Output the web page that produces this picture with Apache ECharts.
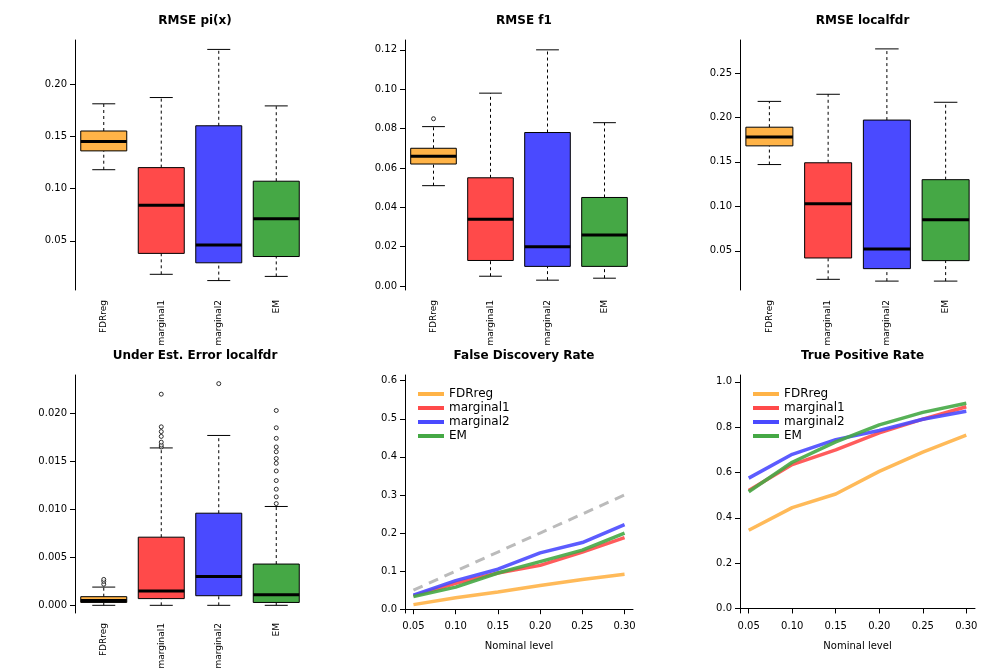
<!DOCTYPE html>
<html><head><meta charset="utf-8">
<script src="https://cdn.jsdelivr.net/npm/echarts@6/dist/echarts.min.js"></script>
<style>html,body{margin:0;background:#fff}#c{width:1008px;height:672px}</style>
</head><body><div id="c"></div>
<script>
const methods = ['FDRreg', 'marginal1', 'marginal2', 'EM']
const colors = ['#ffb347', '#ff4a4a', '#4a4aff', '#45a845']

// boxplot stats: [min, q1, median, q3, max]
const rmsePi = [[0.118,0.136,0.145,0.155,0.181],[0.018,0.038,0.084,0.120,0.187],[0.012,0.029,0.046,0.160,0.233],[0.016,0.035,0.071,0.107,0.179]]
const rmsePiOut = [[], [], [], []]
const rmseF1 = [[0.051,0.062,0.066,0.070,0.081],[0.005,0.013,0.034,0.055,0.098],[0.003,0.010,0.020,0.078,0.120],[0.004,0.010,0.026,0.045,0.083]]
const rmseF1Out = [[0.085], [], [], []]
const rmseLfdr = [[0.147,0.168,0.178,0.189,0.218],[0.018,0.042,0.103,0.149,0.226],[0.016,0.030,0.052,0.197,0.277],[0.016,0.039,0.085,0.130,0.217]]
const rmseLfdrOut = [[], [], [], []]
const underEst = [[0,0.0003,0.0005,0.0009,0.0019],[0,0.0007,0.0015,0.0071,0.0164],[0,0.0010,0.0030,0.0096,0.0177],[0,0.0003,0.0011,0.0043,0.0103]]
const underEstOut = [
  [0.0022,0.0025,0.0027],
  [0.0165,0.0167,0.0170,0.0176,0.0181,0.0186,0.0220],
  [0.0231],
  [0.0106,0.0113,0.0121,0.0130,0.0140,0.0148,0.0153,0.0160,0.0165,0.0174,0.0185,0.0203]
]

const nominal = [0.05,0.10,0.15,0.20,0.25,0.30]
const fdr = [
  [0.012,0.030,0.045,0.062,0.078,0.092],
  [0.035,0.068,0.095,0.115,0.150,0.188],
  [0.037,0.075,0.105,0.148,0.175,0.222],
  [0.033,0.058,0.095,0.125,0.155,0.200]
]
const tpr = [
  [0.345,0.445,0.505,0.605,0.690,0.765],
  [0.520,0.635,0.700,0.775,0.835,0.890],
  [0.575,0.680,0.745,0.785,0.835,0.870],
  [0.515,0.645,0.735,0.810,0.865,0.905]
]

const panels = [
  {title:'RMSE pi(x)', box:rmsePi, out:rmsePiOut, min:0.003, max:0.242, ticks:[0.05,0.10,0.15,0.20], dec:2},
  {title:'RMSE f1', box:rmseF1, out:rmseF1Out, min:-0.002, max:0.125, ticks:[0,0.02,0.04,0.06,0.08,0.10,0.12], dec:2},
  {title:'RMSE localfdr', box:rmseLfdr, out:rmseLfdrOut, min:0.006, max:0.287, ticks:[0.05,0.10,0.15,0.20,0.25], dec:2},
  {title:'Under Est. Error localfdr', box:underEst, out:underEstOut, min:-0.0008, max:0.024, ticks:[0,0.005,0.010,0.015,0.020], dec:3},
  {title:'False Discovery Rate', line:fdr, min:-0.01, max:0.615, ticks:[0,0.1,0.2,0.3,0.4,0.5,0.6], dec:1, diag:true},
  {title:'True Positive Rate', line:tpr, min:-0.02, max:1.03, ticks:[0,0.2,0.4,0.6,0.8,1.0], dec:1}
]
const gx = [[75,230],[405,228],[740,235]]
const gy = [[40,250],[375,238]]

function renderBox(params, api) {
  const k = api.value(0)
  const v = [1, 2, 3, 4, 5].map(j => api.coord([k, api.value(j)])[1])
  const x = api.coord([k, 0])[0], w = api.size([1, 0])[0] * 0.4, cw = w * 0.5
  const col = colors[k], blk = {stroke:'#000', lineWidth:1}
  return {type:'group', children:[
    {type:'line', shape:{x1:x, y1:v[0], x2:x, y2:v[1]}, style:{...blk, lineDash:[3, 3]}},
    {type:'line', shape:{x1:x, y1:v[3], x2:x, y2:v[4]}, style:{...blk, lineDash:[3, 3]}},
    {type:'line', shape:{x1:x-cw, y1:v[0], x2:x+cw, y2:v[0]}, style:blk},
    {type:'line', shape:{x1:x-cw, y1:v[4], x2:x+cw, y2:v[4]}, style:blk},
    {type:'rect', shape:{x:x-w, y:v[3], width:2*w, height:v[1]-v[3]}, style:{fill:col, ...blk}},
    {type:'line', shape:{x1:x-w, y1:v[2], x2:x+w, y2:v[2]}, style:{stroke:'#000', lineWidth:3}}
  ]}
}

const grid = [], xAxis = [], yAxis = [], series = [], title = [], legend = []
const axisLine = {show:true, lineStyle:{color:'#000'}}
panels.forEach((p, i) => {
  const c = i % 3, r = Math.floor(i / 3)
  grid.push({left:gx[c][0], width:gx[c][1], top:gy[r][0], height:gy[r][1]})
  title.push({text:p.title, left:gx[c][0] + gx[c][1] / 2, top:gy[r][0] - 30, textAlign:'center',
    textStyle:{fontSize:12, fontWeight:'bold', color:'#000', fontFamily:'DejaVu Sans'}})
  yAxis.push({gridIndex:i, type:'value', min:p.min, max:p.max, splitLine:{show:false}, axisLine,
    axisTick:{show:true, customValues:p.ticks, lineStyle:{color:'#000'}},
    axisLabel:{customValues:p.ticks, fontSize:10, color:'#000', formatter:v => v.toFixed(p.dec)}})
  if (p.box) {
    xAxis.push({gridIndex:i, type:'category', data:methods, axisLine:{show:false}, axisTick:{show:false},
      axisLabel:{rotate:90, fontSize:9, color:'#000', interval:0, margin:10}})
    series.push({type:'custom', xAxisIndex:i, yAxisIndex:i, data:p.box.map((d, k) => [k, ...d]),
      renderItem:renderBox, encode:{x:0, y:[1, 5]}})
    const outs = []
    p.out.forEach((arr, k) => arr.forEach(v => outs.push([k, v])))
    series.push({type:'scatter', xAxisIndex:i, yAxisIndex:i, data:outs, symbolSize:4,
      itemStyle:{color:'#fff', borderColor:'#000', borderWidth:1}})
  } else {
    xAxis.push({gridIndex:i, type:'value', min:0.04, max:0.31, splitLine:{show:false}, axisLine,
      name:'Nominal level', nameLocation:'middle', nameGap:28, nameTextStyle:{fontSize:10, color:'#000'},
      axisTick:{customValues:nominal, lineStyle:{color:'#000'}},
      axisLabel:{customValues:nominal, fontSize:10, color:'#000', formatter:v => v.toFixed(2)}})
    if (p.diag) series.push({type:'line', xAxisIndex:i, yAxisIndex:i, data:nominal.map(v => [v, v]),
      symbol:'none', lineStyle:{color:'#bbb', width:3, type:[10,7]}, z:1})
    p.line.forEach((d, k) => series.push({type:'line', name:methods[k], xAxisIndex:i, yAxisIndex:i,
      data:nominal.map((v, j) => [v, d[j]]), symbol:'none', color:colors[k],
      lineStyle:{width:3.5, opacity:0.9}}))
    legend.push({data:methods, orient:'vertical', left:gx[c][0] + 8, top:gy[r][0] + 8, itemGap:2,
      itemWidth:26, itemHeight:4, icon:'rect', textStyle:{fontSize:12, color:'#000'}, selectedMode:false})
  }
})

const chart = echarts.init(document.getElementById('c'))
chart.setOption({animation:false, backgroundColor:'#fff', textStyle:{fontFamily:'DejaVu Sans'},
  title, legend, grid, xAxis, yAxis, series})
</script></body></html>
